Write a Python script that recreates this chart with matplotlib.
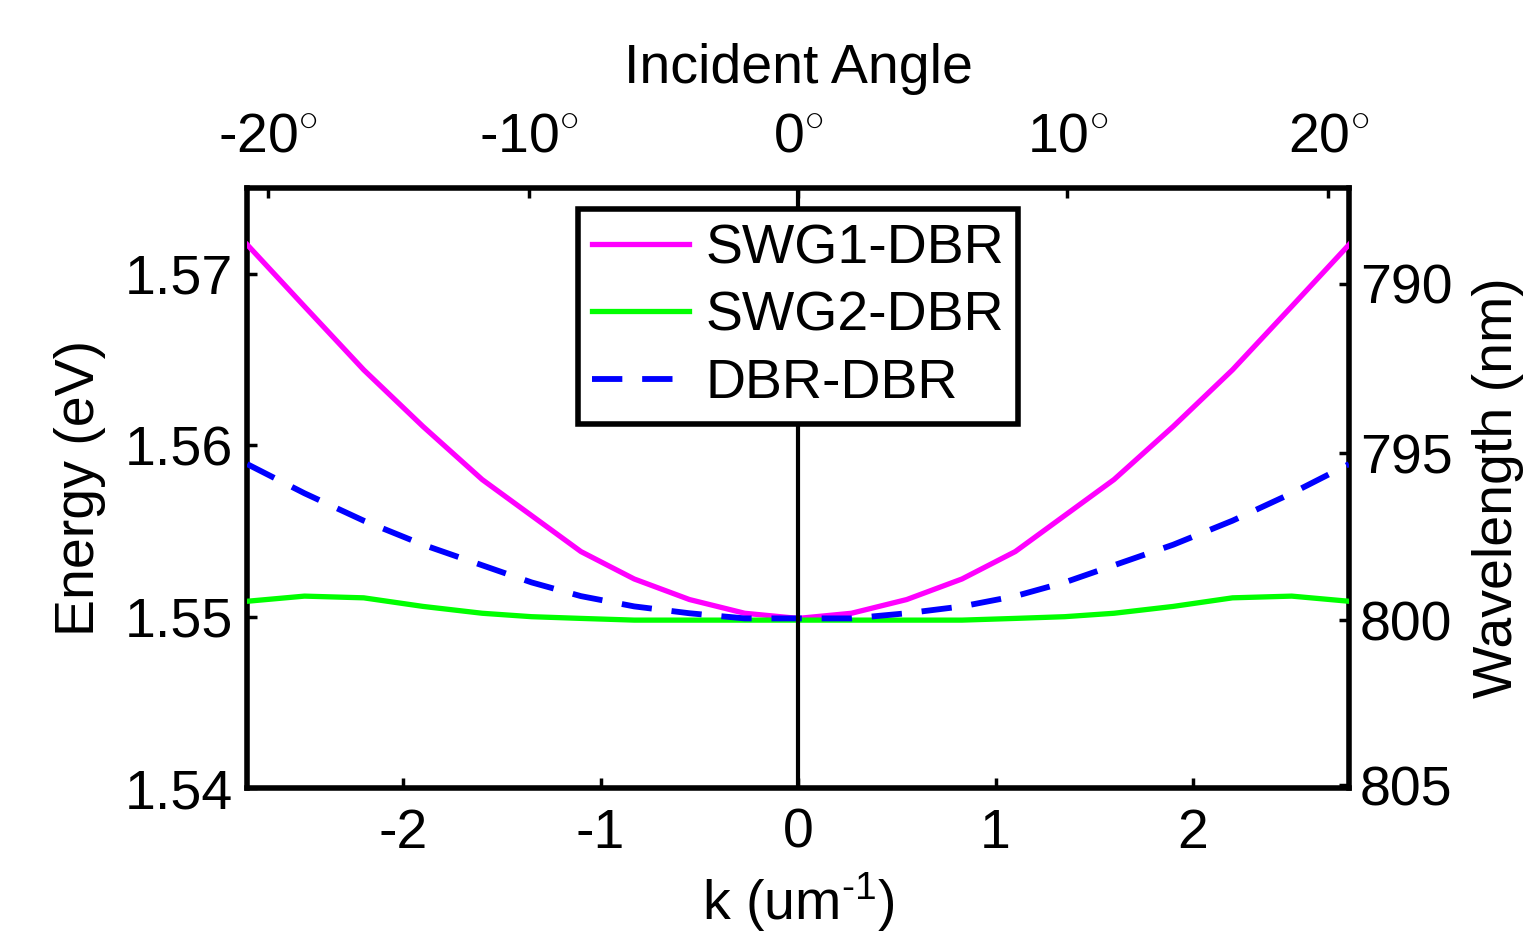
import numpy as np
import matplotlib
matplotlib.use('Agg')
import matplotlib.pyplot as plt

plt.rcParams['font.family'] = ['Liberation Sans', 'DejaVu Sans']
plt.rcParams['mathtext.fontset'] = 'custom'
plt.rcParams['mathtext.rm'] = 'Liberation Sans'
plt.rcParams['mathtext.it'] = 'Liberation Sans'
plt.rcParams['axes.unicode_minus'] = False
plt.rcParams['font.size'] = 40

# data
k = [-2.79, -2.5, -2.2, -1.9, -1.6, -1.35, -1.1, -0.83, -0.55, -0.27, 0.0,
     0.27, 0.55, 0.83, 1.1, 1.35, 1.6, 1.9, 2.2, 2.5, 2.79]
swg1 = [1.5717, 1.5681, 1.5644, 1.5611, 1.5580, 1.5559, 1.5538, 1.5522, 1.5510, 1.5502, 1.5499,
        1.5502, 1.5510, 1.5522, 1.5538, 1.5559, 1.5580, 1.5611, 1.5644, 1.5681, 1.5717]
swg2 = [1.5509, 1.5512, 1.5511, 1.5506, 1.5502, 1.5500, 1.5499, 1.5498, 1.5498, 1.5498, 1.5498,
        1.5498, 1.5498, 1.5498, 1.5499, 1.5500, 1.5502, 1.5506, 1.5511, 1.5512, 1.5509]
dbr = [1.5589, 1.5572, 1.5556, 1.5542, 1.5530, 1.5520, 1.5512, 1.5506, 1.5502, 1.5499, 1.5499,
       1.5499, 1.5502, 1.5506, 1.5512, 1.5520, 1.5530, 1.5542, 1.5556, 1.5572, 1.5589]

energy_ticks = [1.54, 1.55, 1.56, 1.57]
k_ticks = [-2, -1, 0, 1, 2]
angle_ticks = [-20, -10, 0, 10, 20]
wl_ticks = [790, 795, 800, 805]

k0 = 2 * np.pi / 0.8   # um^-1 at 800 nm
hc = 1239.84           # eV nm

fig = plt.figure(figsize=(15.26, 9.36), dpi=100)
ax = fig.add_axes([0.162, 0.158, 0.722, 0.641])

ax.axvline(0, color='k', lw=3, zorder=5)
ax.plot(k, swg1, color='#ff00ff', lw=3.8, label='SWG1-DBR', zorder=3)
ax.plot(k, swg2, color='#00ff00', lw=3.8, label='SWG2-DBR', zorder=3)
ax.plot(k, dbr, color='#0000ff', lw=4.2, ls=(0, (5.2, 3.4)), label='DBR-DBR', zorder=3)

ax.set_xlim(-2.79, 2.79)
ax.set_ylim(1.54, 1.575)
ax.set_xticks(k_ticks)
ax.set_yticks(energy_ticks)
ax.set_yticklabels(['%.2f' % v for v in energy_ticks])
ax.tick_params(axis='x', direction='in', length=7, width=2.5, pad=14)
ax.tick_params(axis='y', direction='in', length=7, width=2.5, pad=10)
for s in ax.spines.values():
    s.set_linewidth(4)

ax.set_xlabel('k (um$^{\\text{-1}}$)', labelpad=8)
ax.set_ylabel('Energy (eV)', labelpad=14)

# top axis: incident angle
top = ax.secondary_xaxis('top', functions=(lambda x: np.degrees(np.arcsin(np.clip(x / k0, -1, 1))),
                                           lambda a: k0 * np.sin(np.radians(a))))
top.set_xticks(angle_ticks)
top.set_xticklabels([r'$\text{%d}^{\circ}$' % a for a in angle_ticks])
top.tick_params(direction='in', length=7, width=2.5, pad=18)
top.set_xlabel('Incident Angle', labelpad=20)

# right axis: wavelength
right = ax.secondary_yaxis('right', functions=(lambda e: hc / e, lambda w: hc / w))
right.set_yticks(wl_ticks)
right.set_yticklabels([str(w) for w in wl_ticks])
right.tick_params(direction='in', length=7, width=2.5, pad=8)
right.set_ylabel('Wavelength (nm)', labelpad=14)

leg = ax.legend(loc='upper center', bbox_to_anchor=(0.5, 0.965), fontsize=40,
                handlelength=1.75, handletextpad=0.3, borderpad=0.25,
                labelspacing=0.28, fancybox=False, framealpha=1, borderaxespad=0)
leg.get_frame().set_edgecolor('k')
leg.get_frame().set_linewidth(4)
leg.set_zorder(10)

fig.savefig('out.png', dpi=100)
